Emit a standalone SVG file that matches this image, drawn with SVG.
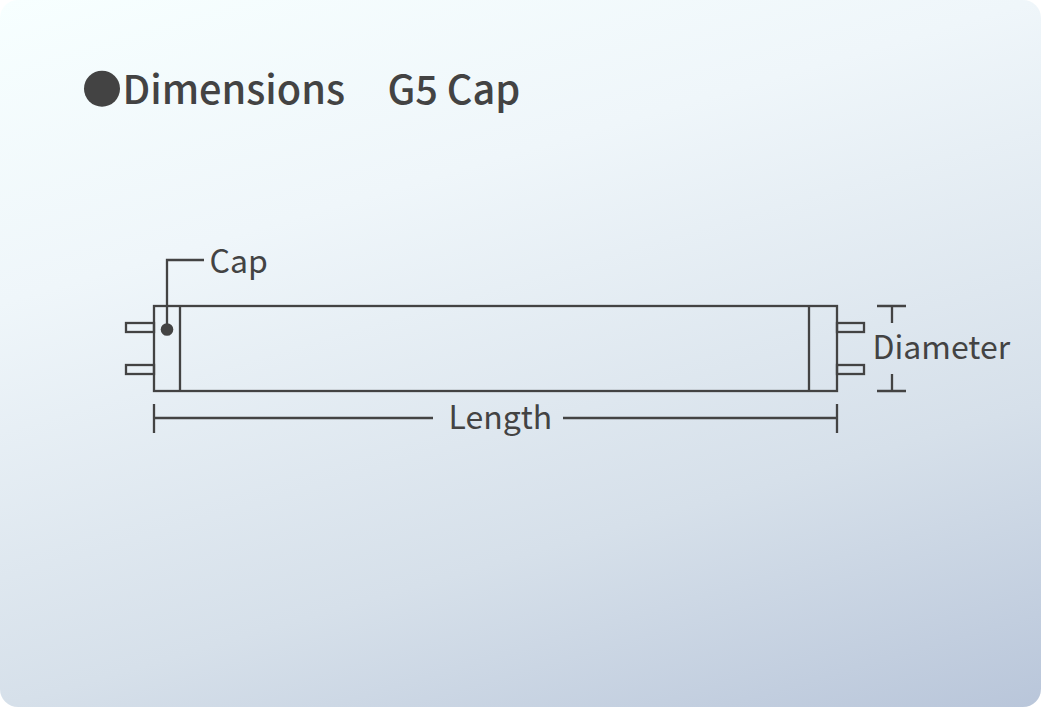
<svg xmlns="http://www.w3.org/2000/svg" width="1041" height="707" viewBox="0 0 1041 707">
<style>
.l{fill:none;stroke:#434343;stroke-width:2.3}
.t{font-family:"Noto Sans CJK SC","Noto Sans",sans-serif;fill:#434343}
.s{font-size:32px}
.h{font-size:39.700px;font-weight:500}
</style>
<defs>
<linearGradient id="bg" gradientUnits="userSpaceOnUse" x1="0" y1="0" x2="272" y2="931">
<stop offset="0" stop-color="#f7ffff"/>
<stop offset="0.3" stop-color="#eff6fa"/>
<stop offset="0.7" stop-color="#d6e0ea"/>
<stop offset="1" stop-color="#b9c6da"/>
</linearGradient>
</defs>
<rect width="1041" height="707" fill="#fff"/>
<rect id="panel" width="1041" height="707" rx="18" fill="url(#bg)"/>
<g id="title">
<circle cx="102" cy="88.700" r="18" fill="#434343"/>
<text class="t h" x="122.500" y="104">Dimensions</text>
<text class="t h" x="387.500" y="104">G5 Cap</text>
</g>
<g id="tube">
<rect class="l" x="154" y="306" width="683" height="85"/>
<path class="l" d="M180 306V391M809 306V391"/>
<rect class="l" x="126" y="323" width="28" height="9"/>
<rect class="l" x="126" y="365" width="28" height="9"/>
<rect class="l" x="837" y="323" width="27" height="9"/>
<rect class="l" x="837" y="365" width="27" height="9"/>
</g>
<g id="connectors">
<path class="l" d="M204 260H167V329"/>
<circle cx="167" cy="329.500" r="6.300" fill="#434343"/>
<path class="l" d="M154 404V433M837 404V433M154 418H433M563 418H837"/>
<path class="l" d="M877 306H906M877 391H906M892 306V323M892 374V391"/>
</g>
<g id="labels">
<text class="t s" x="209.500" y="273">Cap</text>
<text class="t s" x="448.500" y="429">Length</text>
<text class="t s" x="872.500" y="359">Diameter</text>
</g>
</svg>
